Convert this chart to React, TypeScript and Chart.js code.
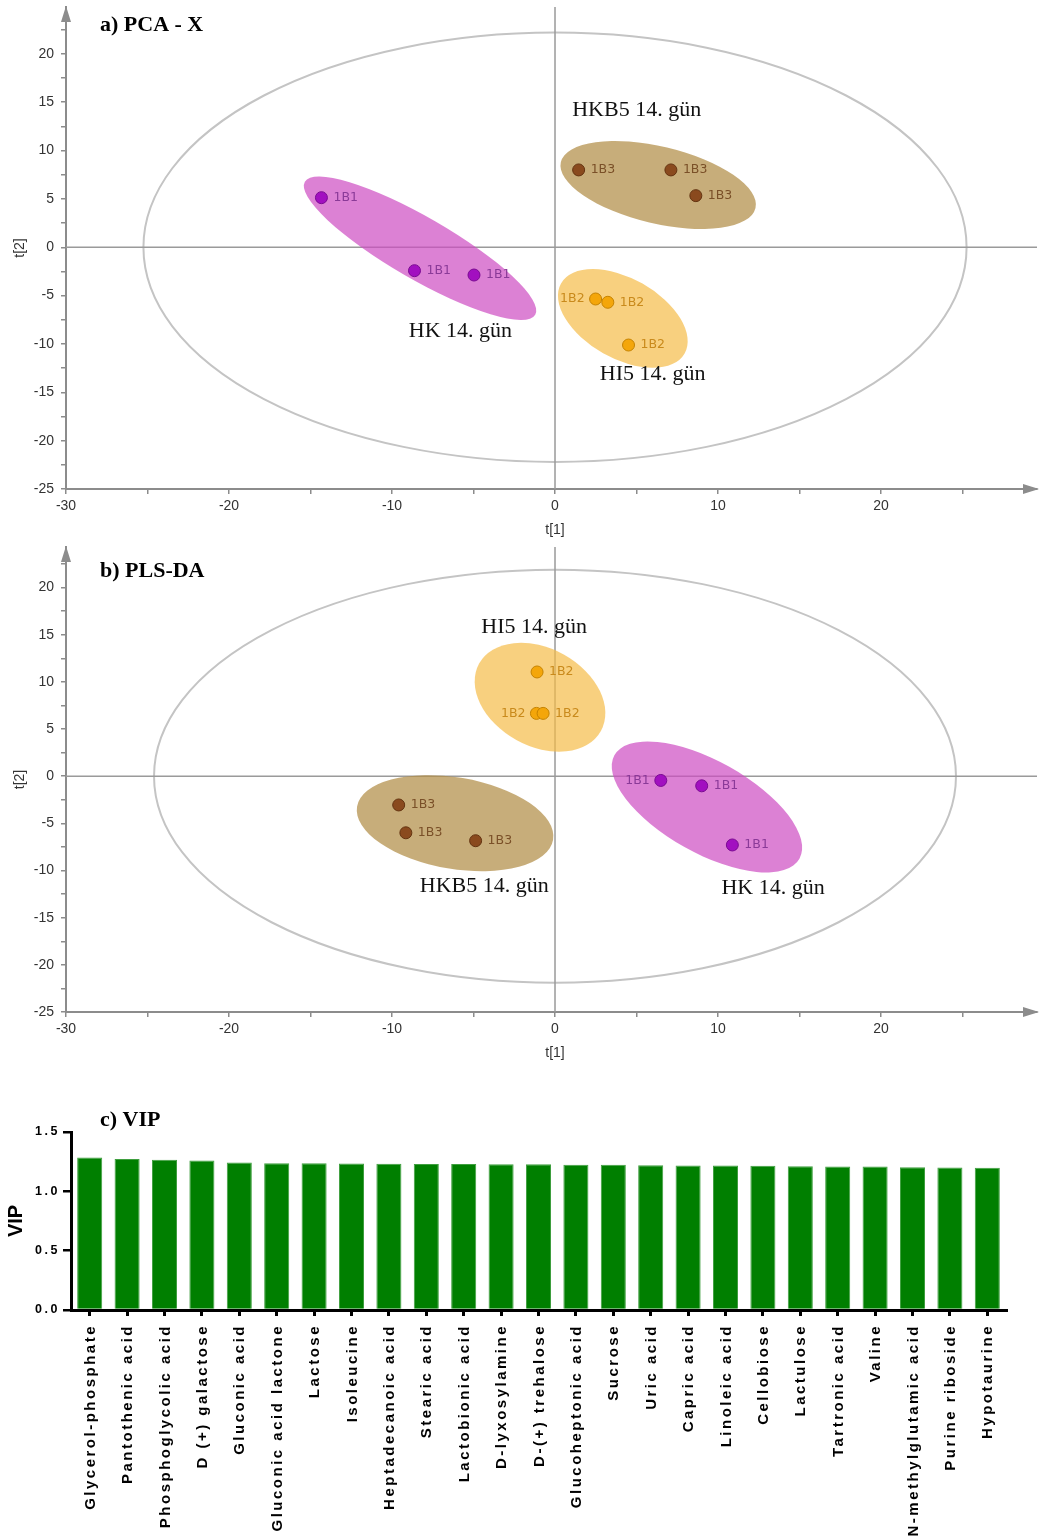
import React, { useEffect, useRef } from 'react';
import { Chart, registerables } from 'chart.js';

Chart.register(...registerables);

// ---- PCA-X scores: [t[1], t[2]] ----
const pcaHK = [[-14.33, 5.13], [-8.62, -2.42], [-4.97, -2.87]];
const pcaHKB5 = [[1.45, 8.0], [7.11, 8.0], [8.64, 5.34]];
const pcaHI5 = [[2.49, -5.35], [3.24, -5.69], [4.51, -10.11]];

// ---- PLS-DA scores: [t[1], t[2]] ----
const plsHK = [[6.49, -0.45], [9.0, -1.02], [10.88, -7.29]];
const plsHKB5 = [[-9.59, -3.05], [-9.15, -6.0], [-4.87, -6.84]];
const plsHI5 = [[-1.1, 11.05], [-1.14, 6.66], [-0.73, 6.66]];

// sample class labels
const labelHK = '1B1';
const labelHI5 = '1B2';
const labelHKB5 = '1B3';

// group names
const nameHK = 'HK 14. gün';
const nameHI5 = 'HI5 14. gün';
const nameHKB5 = 'HKB5 14. gün';

// Hotelling T2 ellipse semi-axes (t[1], t[2])
const pcaT2 = [25.25, 22.2];
const plsT2 = [24.6, 21.9];

// ---- VIP scores ----
const vipNames = [
  'Glycerol-phosphate', 'Pantothenic acid', 'Phosphoglycolic acid', 'D (+) galactose',
  'Gluconic acid', 'Gluconic acid lactone', 'Lactose', 'Isoleucine', 'Heptadecanoic acid',
  'Stearic acid', 'Lactobionic acid', 'D-lyxosylamine', 'D-(+) trehalose', 'Glucoheptonic acid',
  'Sucrose', 'Uric acid', 'Capric acid', 'Linoleic acid', 'Cellobiose', 'Lactulose',
  'Tartronic acid', 'Valine', 'N-methylglutamic acid', 'Purine riboside', 'Hypotaurine',
];
const vipValues = [
  1.285, 1.273, 1.267, 1.259, 1.242, 1.237, 1.237, 1.234, 1.232, 1.231, 1.23, 1.228, 1.228,
  1.225, 1.223, 1.22, 1.217, 1.217, 1.215, 1.212, 1.209, 1.209, 1.204, 1.201, 1.198,
];
const vipTicks = [0, 0.5, 1.0, 1.5];

// ---- styling ----
const STYLE = {
  HK: { point: '#a20fc0', edge: '#7a0a92', text: '#8a3a98', fill: 'rgba(205,76,194,0.7)' },
  HKB5: { point: '#8a4a1e', edge: '#633310', text: '#7a5028', fill: 'rgba(178,142,71,0.72)' },
  HI5: { point: '#f4a60a', edge: '#c58200', text: '#c98a1c', fill: 'rgba(245,188,72,0.7)' },
};
const AXIS_GRAY = '#8c8c8c';
const SANS = '"Liberation Sans", Arial, sans-serif';
const SERIF = '"Liberation Serif", "Times New Roman", serif';

type Region = { cx: number; cy: number; rx: number; ry: number; angle: number };
type Group = {
  key: 'HK' | 'HKB5' | 'HI5';
  points: number[][];
  label: string;
  name: string;
  leftLabels: number[];
  region: Region;
  namePos: number[];
};
type Panel = {
  title: string;
  titleY: number;
  t2: number[];
  yMax: number;
  padTop: number;
  xAxisHeight: number;
  groups: Group[];
};

const pcaPanel: Panel = {
  title: 'a) PCA - X',
  titleY: 25,
  t2: pcaT2,
  yMax: 24.85,
  padTop: 7,
  xAxisHeight: 51,
  groups: [
    { key: 'HK', points: pcaHK, label: labelHK, name: nameHK, leftLabels: [],
      region: { cx: -8.28, cy: -0.1, rx: 133, ry: 31, angle: 30 }, namePos: [-5.8, -8.66] },
    { key: 'HKB5', points: pcaHKB5, label: labelHKB5, name: nameHKB5, leftLabels: [],
      region: { cx: 6.33, cy: 6.44, rx: 100, ry: 38.5, angle: 13.3 }, namePos: [5.01, 14.2] },
    { key: 'HI5', points: pcaHI5, label: labelHI5, name: nameHI5, leftLabels: [0],
      region: { cx: 4.16, cy: -7.36, rx: 71, ry: 40, angle: 29.5 }, namePos: [5.99, -13.16] },
  ],
};

const plsPanel: Panel = {
  title: 'b) PLS-DA',
  titleY: 31,
  t2: plsT2,
  yMax: 24.3,
  padTop: 3,
  xAxisHeight: 53,
  groups: [
    { key: 'HK', points: plsHK, label: labelHK, name: nameHK, leftLabels: [0],
      region: { cx: 9.32, cy: -3.26, rx: 106, ry: 46, angle: 29.2 }, namePos: [13.38, -11.89] },
    { key: 'HKB5', points: plsHKB5, label: labelHKB5, name: nameHKB5, leftLabels: [],
      region: { cx: -6.13, cy: -4.98, rx: 99.4, ry: 45.7, angle: 9.6 }, namePos: [-4.34, -11.68] },
    { key: 'HI5', points: plsHI5, label: labelHI5, name: nameHI5, leftLabels: [1],
      region: { cx: -0.92, cy: 8.37, rx: 69.6, ry: 48.9, angle: 29 }, namePos: [-1.28, 15.79] },
  ],
};

const isMult = (v: number, m: number) => Math.abs(v / m - Math.round(v / m)) < 1e-6;

function scoreDecor(p: Panel) {
  return {
    id: 'scoreDecor',
    beforeDatasetsDraw(chart: any) {
      const { ctx, chartArea: ca } = chart;
      const x = chart.scales.x;
      const y = chart.scales.y;
      const cx = x.getPixelForValue(0);
      const cy = y.getPixelForValue(0);
      ctx.save();
      // T2 ellipse
      ctx.strokeStyle = '#c4c4c4';
      ctx.lineWidth = 2;
      ctx.beginPath();
      ctx.ellipse(cx, cy, x.getPixelForValue(p.t2[0]) - cx, cy - y.getPixelForValue(p.t2[1]), 0, 0, Math.PI * 2);
      ctx.stroke();
      // zero lines
      ctx.strokeStyle = '#9a9a9a';
      ctx.lineWidth = 1.5;
      ctx.beginPath();
      ctx.moveTo(cx, ca.top);
      ctx.lineTo(cx, ca.bottom);
      ctx.moveTo(ca.left, cy);
      ctx.lineTo(ca.right, cy);
      ctx.stroke();
      // class regions
      for (const g of p.groups) {
        const r = g.region;
        ctx.fillStyle = STYLE[g.key].fill;
        ctx.beginPath();
        ctx.ellipse(x.getPixelForValue(r.cx), y.getPixelForValue(r.cy), r.rx, r.ry, (r.angle * Math.PI) / 180, 0, Math.PI * 2);
        ctx.fill();
      }
      ctx.restore();
    },
    afterDatasetsDraw(chart: any) {
      const { ctx } = chart;
      const x = chart.scales.x;
      const y = chart.scales.y;
      ctx.save();
      ctx.font = `12.5px "DejaVu Sans", sans-serif`;
      ctx.textBaseline = 'middle';
      for (const g of p.groups) {
        ctx.fillStyle = STYLE[g.key].text;
        g.points.forEach((pt, i) => {
          const px = x.getPixelForValue(pt[0]);
          const py = y.getPixelForValue(pt[1]);
          if (g.leftLabels.includes(i)) {
            ctx.textAlign = 'right';
            ctx.fillText(g.label, px - 11, py);
          } else {
            ctx.textAlign = 'left';
            ctx.fillText(g.label, px + 12, py);
          }
        });
      }
      ctx.fillStyle = '#111';
      ctx.font = `22px ${SERIF}`;
      ctx.textAlign = 'center';
      for (const g of p.groups) {
        ctx.fillText(g.name, x.getPixelForValue(g.namePos[0]), y.getPixelForValue(g.namePos[1]));
      }
      ctx.restore();
    },
    afterDraw(chart: any) {
      const { ctx, chartArea: ca } = chart;
      const x = chart.scales.x;
      ctx.save();
      // axis arrows
      ctx.fillStyle = AXIS_GRAY;
      ctx.beginPath();
      ctx.moveTo(ca.right + 2, ca.bottom);
      ctx.lineTo(ca.right - 14, ca.bottom - 5);
      ctx.lineTo(ca.right - 14, ca.bottom + 5);
      ctx.closePath();
      ctx.fill();
      ctx.beginPath();
      ctx.moveTo(ca.left, ca.top - 1);
      ctx.lineTo(ca.left - 5, ca.top + 15);
      ctx.lineTo(ca.left + 5, ca.top + 15);
      ctx.closePath();
      ctx.fill();
      // axis titles
      ctx.fillStyle = '#333';
      ctx.font = `14px ${SANS}`;
      ctx.textAlign = 'center';
      ctx.textBaseline = 'middle';
      ctx.fillText('t[1]', x.getPixelForValue(0), ca.bottom + 41);
      ctx.save();
      ctx.translate(20, (ca.top + ca.bottom) / 2);
      ctx.rotate(-Math.PI / 2);
      ctx.fillText('t[2]', 0, 0);
      ctx.restore();
      // panel title
      ctx.fillStyle = '#000';
      ctx.font = `bold 22px ${SERIF}`;
      ctx.textAlign = 'left';
      ctx.fillText(p.title, 100, p.titleY);
      ctx.restore();
    },
  };
}

function scoreConfig(p: Panel): any {
  const tickFont = { family: SANS, size: 14 };
  return {
    type: 'scatter',
    data: {
      datasets: p.groups.map((g) => ({
        label: g.name,
        data: g.points.map(([vx, vy]) => ({ x: vx, y: vy })),
        backgroundColor: STYLE[g.key].point,
        borderColor: STYLE[g.key].edge,
        pointRadius: 6,
        pointHoverRadius: 6,
        pointBorderWidth: 1,
      })),
    },
    options: {
      responsive: false,
      animation: false,
      events: [],
      layout: { padding: { top: p.padTop, right: 3, left: 0, bottom: 0 } },
      plugins: { legend: { display: false }, tooltip: { enabled: false } },
      scales: {
        x: {
          type: 'linear',
          min: -30,
          max: 29.57,
          afterFit: (s: any) => { s.height = p.xAxisHeight; s.paddingLeft = 0; s.paddingRight = 0; },
          ticks: {
            stepSize: 5, includeBounds: false, autoSkip: false, maxRotation: 0, padding: 4,
            color: '#333', font: tickFont,
            callback: (v: number) => (isMult(v, 10) ? String(Math.round(v)) : ''),
          },
          grid: { display: true, drawOnChartArea: false, drawTicks: true, tickLength: 5, color: AXIS_GRAY, lineWidth: 1.5 },
          border: { display: true, color: AXIS_GRAY, width: 2 },
        },
        y: {
          type: 'linear',
          min: -25,
          max: p.yMax,
          afterFit: (s: any) => { s.width = 66; s.paddingTop = 0; s.paddingBottom = 0; },
          ticks: {
            stepSize: 2.5, includeBounds: false, autoSkip: false, padding: 7,
            color: '#333', font: tickFont,
            callback: (v: number) => (isMult(v, 5) ? String(Math.round(v)) : ''),
          },
          grid: { display: true, drawOnChartArea: false, drawTicks: true, tickLength: 5, color: AXIS_GRAY, lineWidth: 1.5 },
          border: { display: true, color: AXIS_GRAY, width: 2 },
        },
      },
    },
    plugins: [scoreDecor(p)],
  };
}

const vipDecor = {
  id: 'vipDecor',
  afterDraw(chart: any) {
    const { ctx, chartArea: ca } = chart;
    const x = chart.scales.x;
    const y = chart.scales.y;
    ctx.save();
    ctx.fillStyle = '#000';
    // value axis labels
    ctx.font = `bold 12.5px ${SANS}`;
    (ctx as any).letterSpacing = '2.5px';
    ctx.textAlign = 'right';
    ctx.textBaseline = 'middle';
    vipTicks.forEach((v) => ctx.fillText(v.toFixed(1), ca.left - 11, y.getPixelForValue(v)));
    // compound names
    ctx.font = `bold 15px ${SANS}`;
    (ctx as any).letterSpacing = '2.5px';
    chart.data.labels.forEach((name: string, i: number) => {
      ctx.save();
      ctx.translate(x.getPixelForValue(i) + 1, ca.bottom + 14);
      ctx.rotate(-Math.PI / 2);
      ctx.textAlign = 'right';
      ctx.fillText(name, 0, 0);
      ctx.restore();
    });
    (ctx as any).letterSpacing = '0px';
    // axis title
    ctx.font = `bold 20px ${SANS}`;
    ctx.save();
    ctx.translate(16, (ca.top + ca.bottom) / 2);
    ctx.rotate(-Math.PI / 2);
    ctx.textAlign = 'center';
    ctx.fillText('VIP', 0, 0);
    ctx.restore();
    // panel title
    ctx.font = `bold 22px ${SERIF}`;
    ctx.textAlign = 'left';
    ctx.fillText('c) VIP', 100, 30);
    ctx.restore();
  },
};

function vipConfig(): any {
  return {
    type: 'bar',
    data: {
      labels: vipNames,
      datasets: [{
        label: 'VIP',
        data: vipValues,
        backgroundColor: '#007f00',
        borderColor: '#3f9f3f',
        borderWidth: 1,
        barPercentage: 0.67,
        categoryPercentage: 1,
      }],
    },
    options: {
      responsive: false,
      animation: false,
      events: [],
      layout: { padding: { top: 42, right: 38, left: 0, bottom: 0 } },
      plugins: { legend: { display: false }, tooltip: { enabled: false } },
      scales: {
        x: {
          afterFit: (s: any) => { s.height = 227; s.paddingLeft = 0; s.paddingRight = 0; },
          ticks: { autoSkip: false, maxRotation: 0, callback: () => '' },
          grid: { display: true, offset: false, drawOnChartArea: false, drawTicks: true, tickLength: 6, color: '#000', lineWidth: 3 },
          border: { display: true, color: '#000', width: 3 },
        },
        y: {
          min: 0,
          max: 1.5,
          afterFit: (s: any) => { s.width = 71; s.paddingTop = 0; s.paddingBottom = 0; },
          ticks: { stepSize: 0.5, callback: () => '' },
          grid: { display: true, drawOnChartArea: false, drawTicks: true, tickLength: 8, color: '#000', lineWidth: 2.5 },
          border: { display: true, color: '#000', width: 3 },
        },
      },
    },
    plugins: [vipDecor],
  };
}

function ChartCanvas({ top, height, build }: { top: number; height: number; build: () => any }) {
  const ref = useRef<HTMLCanvasElement>(null);
  useEffect(() => {
    const chart = new Chart(ref.current as HTMLCanvasElement, build());
    return () => chart.destroy();
  }, []);
  return (
    <canvas
      ref={ref}
      width={1044}
      height={height}
      style={{ position: 'absolute', left: 0, top, width: 1044, height }}
    />
  );
}

export default function App() {
  return (
    <div style={{ position: 'absolute', left: 0, top: 0, width: 1044, height: 1537, background: '#fff', overflow: 'hidden' }}>
      <ChartCanvas top={0} height={540} build={() => scoreConfig(pcaPanel)} />
      <ChartCanvas top={540} height={525} build={() => scoreConfig(plsPanel)} />
      <ChartCanvas top={1090} height={447} build={vipConfig} />
    </div>
  );
}
